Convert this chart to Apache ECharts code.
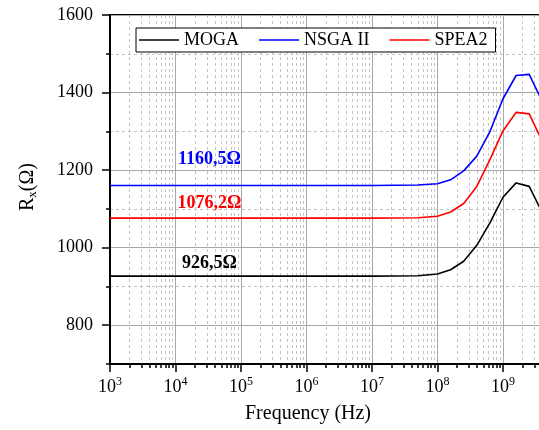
<!DOCTYPE html>
<html>
<head>
<meta charset="utf-8">
<script src="https://cdn.jsdelivr.net/npm/echarts@6/dist/echarts.min.js"></script>
<style>
html,body{margin:0;padding:0;background:#fff;overflow:hidden;width:539px;height:430px;}
#chart{width:569px;height:430px;}
</style>
</head>
<body>
<div id="chart"></div>
<script>
// ---- data ----
var frequencies = [1e3, 1e4, 1e5, 1e6, 1e7, 5e7, 1e8, 1.585e8, 2.512e8, 3.981e8, 6.31e8, 1e9, 1.585e9, 2.512e9, 3.981e9];
var mogaValues  = [926.5, 926.5, 926.5, 926.5, 926.5, 927.5, 932, 943, 965, 1006, 1064, 1130, 1167, 1158, 1090];
var nsgaValues  = [1160.5, 1160.5, 1160.5, 1160.5, 1160.5, 1161.5, 1165, 1175, 1198, 1236, 1299, 1384, 1444, 1447, 1377];
var speaValues  = [1076.2, 1076.2, 1076.2, 1076.2, 1076.2, 1077.2, 1081, 1092, 1114, 1158, 1227, 1301, 1349, 1345, 1274];
var seriesNames = ['MOGA', 'NSGA II', 'SPEA2'];
var seriesColors = ['#000000', '#0000ff', '#ff0000'];
var flatLabels = ['926,5\u03A9', '1160,5\u03A9', '1076,2\u03A9'];
var flatValues = [926.5, 1160.5, 1076.2];
var labelFreq = 3.3e4;
var yMajorTicks = [800, 1000, 1200, 1400, 1600];
var yMin = 700, yMax = 1600;
var xMin = 1e3, xMax = 1e10;
var xMinorMultipliers = [2, 3, 4, 5, 6, 7, 8, 9];
var xTitle = 'Frequency (Hz)';

// minor x tick positions, in log10 units
var xMinorLog = [];
for (var d = 3; d < 10; d++) {
  xMinorMultipliers.forEach(function (m) { xMinorLog.push(d + Math.log10(m)); });
}

var FONT = '"Liberation Serif", "Times New Roman", serif';
var labelOffsets = [-13, -26, -15];

function mkSeries(i, vals) {
  return {
    name: seriesNames[i],
    type: 'line',
    xAxisIndex: 0,
    yAxisIndex: 0,
    symbol: 'none',
    smooth: false,
    data: frequencies.map(function (f, k) { return [f, vals[k]]; }),
    lineStyle: { color: seriesColors[i], width: 1.6 },
    itemStyle: { color: seriesColors[i] },
    z: 5,
    markPoint: {
      symbol: 'circle',
      symbolSize: 0,
      silent: true,
      data: [{
        coord: [labelFreq, flatValues[i]],
        label: {
          show: true,
          formatter: flatLabels[i],
          offset: [0, labelOffsets[i]],
          color: seriesColors[i],
          fontFamily: FONT,
          fontWeight: 'bold',
          fontSize: 18
        }
      }]
    }
  };
}

var chart = echarts.init(document.getElementById('chart'), null, { renderer: 'canvas' });
chart.setOption({
  animation: false,
  textStyle: { fontFamily: FONT },
  grid: {
    left: 110, right: 0.5, top: 15, bottom: 66,
    outerBoundsMode: 'none', containLabel: false,
    show: true, borderColor: '#000', borderWidth: 2, backgroundColor: 'transparent'
  },
  legend: {
    data: seriesNames,
    left: 136, top: 28,
    icon: 'rect', itemWidth: 40, itemHeight: 1.5, itemGap: 20,
    padding: [3, 8, 3, 3],
    borderColor: '#000', borderWidth: 1, borderRadius: 0,
    backgroundColor: '#fff',
    textStyle: { fontFamily: FONT, fontSize: 18, color: '#000' }
  },
  xAxis: [{
    type: 'log', logBase: 10, min: xMin, max: xMax, position: 'bottom',
    axisLine: { show: true, lineStyle: { color: '#000', width: 2 } },
    axisTick: { show: true, length: 8, lineStyle: { color: '#000', width: 1.5 } },
    splitLine: { show: true, lineStyle: { color: '#a8a8a8', width: 1 } },
    axisLabel: {
      margin: 12,
      formatter: function (v) { return '{a|10}{b|' + Math.round(Math.log10(v)) + '}'; },
      rich: {
        a: { fontFamily: FONT, fontSize: 18, color: '#000' },
        b: { fontFamily: FONT, fontSize: 12, color: '#000', padding: [0, 0, 10, 0] }
      }
    }
  }, {
    type: 'value', min: 3, max: 10, position: 'bottom',
    axisLine: { show: false },
    axisLabel: { show: false },
    axisTick: { show: true, customValues: xMinorLog, length: 4, lineStyle: { color: '#000', width: 1.5 } },
    splitLine: { show: true, lineStyle: { color: '#c4c4c4', width: 1, type: [3, 3] } }
  }],
  yAxis: [{
    type: 'value', min: yMin, max: yMax, interval: 100, position: 'left',
    axisLine: { show: true, lineStyle: { color: '#000', width: 2 } },
    axisTick: { show: true, length: 4, lineStyle: { color: '#000', width: 1.5 } },
    axisLabel: { show: false },
    splitLine: { show: true, lineStyle: { color: '#c4c4c4', width: 1, type: [3, 3] } }
  }, {
    type: 'value', min: yMin, max: yMax, position: 'left',
    axisLine: { show: false },
    axisTick: { show: true, customValues: yMajorTicks, length: 8, lineStyle: { color: '#000', width: 1.5 } },
    axisLabel: {
      show: true, customValues: yMajorTicks, margin: 17, fontFamily: FONT, fontSize: 18, color: '#000',
      formatter: function (v) { return String(v); }
    },
    splitLine: { show: true, lineStyle: { color: '#a8a8a8', width: 1 } }
  }],
  graphic: [{
    type: 'text', x: 308, y: 414, z: 10,
    style: { text: xTitle, font: '20px ' + FONT, fill: '#000', align: 'center', verticalAlign: 'middle' }
  }, {
    type: 'text', x: 28, y: 187, rotation: Math.PI / 2, z: 10,
    style: {
      text: '{r|R}{s|x}{r|(\u03A9)}',
      align: 'center', verticalAlign: 'middle', fill: '#000',
      rich: {
        r: { fontFamily: FONT, fontSize: 20, fill: '#000' },
        s: { fontFamily: FONT, fontSize: 13, fill: '#000', padding: [10, 0, 0, 0] }
      }
    }
  }],
  series: [
    mkSeries(0, mogaValues),
    mkSeries(1, nsgaValues),
    mkSeries(2, speaValues)
  ]
});
</script>
</body>
</html>
